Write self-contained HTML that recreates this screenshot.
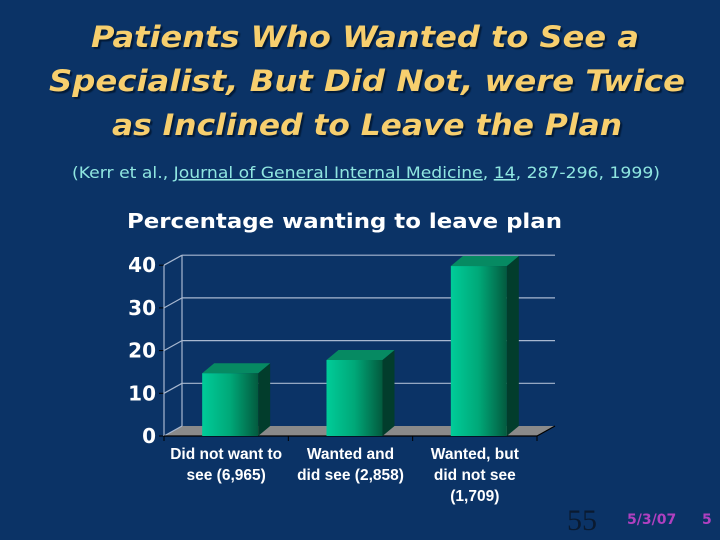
<!DOCTYPE html>
<html><head><meta charset="utf-8"><style>
body{margin:0;width:720px;height:540px;background:#0b3366;overflow:hidden;position:relative;font-family:"Liberation Sans",sans-serif}
svg{position:absolute;left:0;top:0}
.t{fill:#f7cf6e;font-family:"DejaVu Sans",sans-serif;font-style:oblique;font-weight:bold;font-size:29px;filter:drop-shadow(2px 2px 0.5px #021a38)}
</style></head><body>
<svg id="chart" width="720" height="540">
<defs>
<linearGradient id="gf" x1="0" x2="1"><stop offset="0" stop-color="#00cc99"/><stop offset="0.5" stop-color="#00a878"/><stop offset="1" stop-color="#035a3e"/></linearGradient>
</defs>
<text class="t" x="91" y="47" textLength="548" lengthAdjust="spacingAndGlyphs">Patients Who Wanted to See a</text>
<text class="t" x="49" y="91" textLength="636" lengthAdjust="spacingAndGlyphs">Specialist, But Did Not, were Twice</text>
<text class="t" x="112" y="135" textLength="510" lengthAdjust="spacingAndGlyphs">as Inclined to Leave the Plan</text>
<text x="72" y="178" textLength="588" lengthAdjust="spacingAndGlyphs" fill="#8fe6e0" font-family="DejaVu Sans, sans-serif" font-size="16">(Kerr et al., <tspan text-decoration="underline">Journal of General Internal Medicine</tspan>, <tspan text-decoration="underline">14</tspan>, 287-296, 1999)</text>
<text x="567" y="530" font-family="Liberation Serif, serif" font-size="30" fill="#0a1a30">55</text>
<text x="627" y="524" font-size="14" font-weight="bold" fill="#b040c0" font-family="DejaVu Sans, sans-serif">5/3/07</text>
<text x="702" y="524" font-size="14" font-weight="bold" fill="#b040c0" font-family="DejaVu Sans, sans-serif">5</text>
</svg>
<script>
const categories=[["Did not want to","see (6,965)"],["Wanted and","did see (2,858)"],["Wanted, but","did not see","(1,709)"]];
const values=[14.7,17.8,39.8];
const ticks=[0,10,20,30,40];
const title="Percentage wanting to leave plan";
const svg=document.getElementById('chart');
const NS="http://www.w3.org/2000/svg";
const x0=164,x1=537,y0=436,unit=4.27,dx=18,dy=10,bw=56,bdx=12,bdy=10;
const yS=v=>y0-v*unit;
const slot=(x1-x0)/categories.length;
function mk(t,a,p){const e=document.createElementNS(NS,t);for(const k in a)e.setAttribute(k,a[k]);(p||svg).appendChild(e);return e;}
let e=mk('text',{x:127,y:228,fill:'#fff','font-size':20,'font-weight':'bold','font-family':'DejaVu Sans, sans-serif',textLength:435,lengthAdjust:'spacingAndGlyphs'});e.textContent=title;


e=mk('polygon',{points:`${x0},${y0} ${x1},${y0} ${x1+dx},${y0-dy} ${x0+dx},${y0-dy}`,fill:'#8a8a8a'});


ticks.forEach(t=>{const y=yS(t);
 if(t>0){e=mk('line',{x1:x0+dx,y1:y-dy,x2:x1+dx,y2:y-dy,stroke:'#a8b8d0','stroke-width':1.2});
 
 }
 e=mk('line',{x1:x0,y1:y,x2:x0+dx,y2:y-dy,stroke:'#a8b8d0','stroke-width':1.2});
 
 
 e=mk('line',{x1:x0-5,y1:y,x2:x0,y2:y,stroke:'#000','stroke-width':1});
 
 
 e=mk('text',{x:x0-8,y:y+7,fill:'#fff','font-size':20,'font-weight':'bold','text-anchor':'end','font-family':'DejaVu Sans, sans-serif'});e.textContent=t;
 
 
});
e=mk('line',{x1:x0+dx,y1:yS(40)-dy,x2:x0+dx,y2:y0-dy,stroke:'#a8b8d0','stroke-width':1.2});


e=mk('line',{x1:x0,y1:yS(40),x2:x0,y2:y0,stroke:'#a8b8d0','stroke-width':1.2});


e=mk('line',{x1:x0,y1:y0,x2:x1,y2:y0,stroke:'#000','stroke-width':1.2});


e=mk('line',{x1:x1,y1:y0,x2:x1+dx,y2:y0-dy,stroke:'#000','stroke-width':1.2});


for(let i=0;i<=categories.length;i++){const x=x0+slot*i;
 e=mk('line',{x1:x,y1:y0,x2:x,y2:y0+5,stroke:'#000'});
 
 }
values.forEach((v,i)=>{const cx=x0+slot*(i+0.5),l=cx-bw/2+4,r=l+bw,top=yS(v);
 const g=mk('g',{});
 
 
 mk('polygon',{points:`${r},${top} ${r+bdx},${top-bdy} ${r+bdx},${y0-bdy} ${r},${y0}`,fill:'#023d2c'},g);
 mk('polygon',{points:`${l},${top} ${r},${top} ${r+bdx},${top-bdy} ${l+bdx},${top-bdy}`,fill:'#068a62'},g);
 mk('rect',{x:l,y:top,width:bw,height:y0-top,fill:'url(#gf)'},g);
 categories[i].forEach((s,j)=>{e=mk('text',{x:cx,y:459+j*21,fill:'#fff','font-size':15.5,'font-weight':'bold','text-anchor':'middle'});e.textContent=s;
  
  });
});
</script>
</body></html>
